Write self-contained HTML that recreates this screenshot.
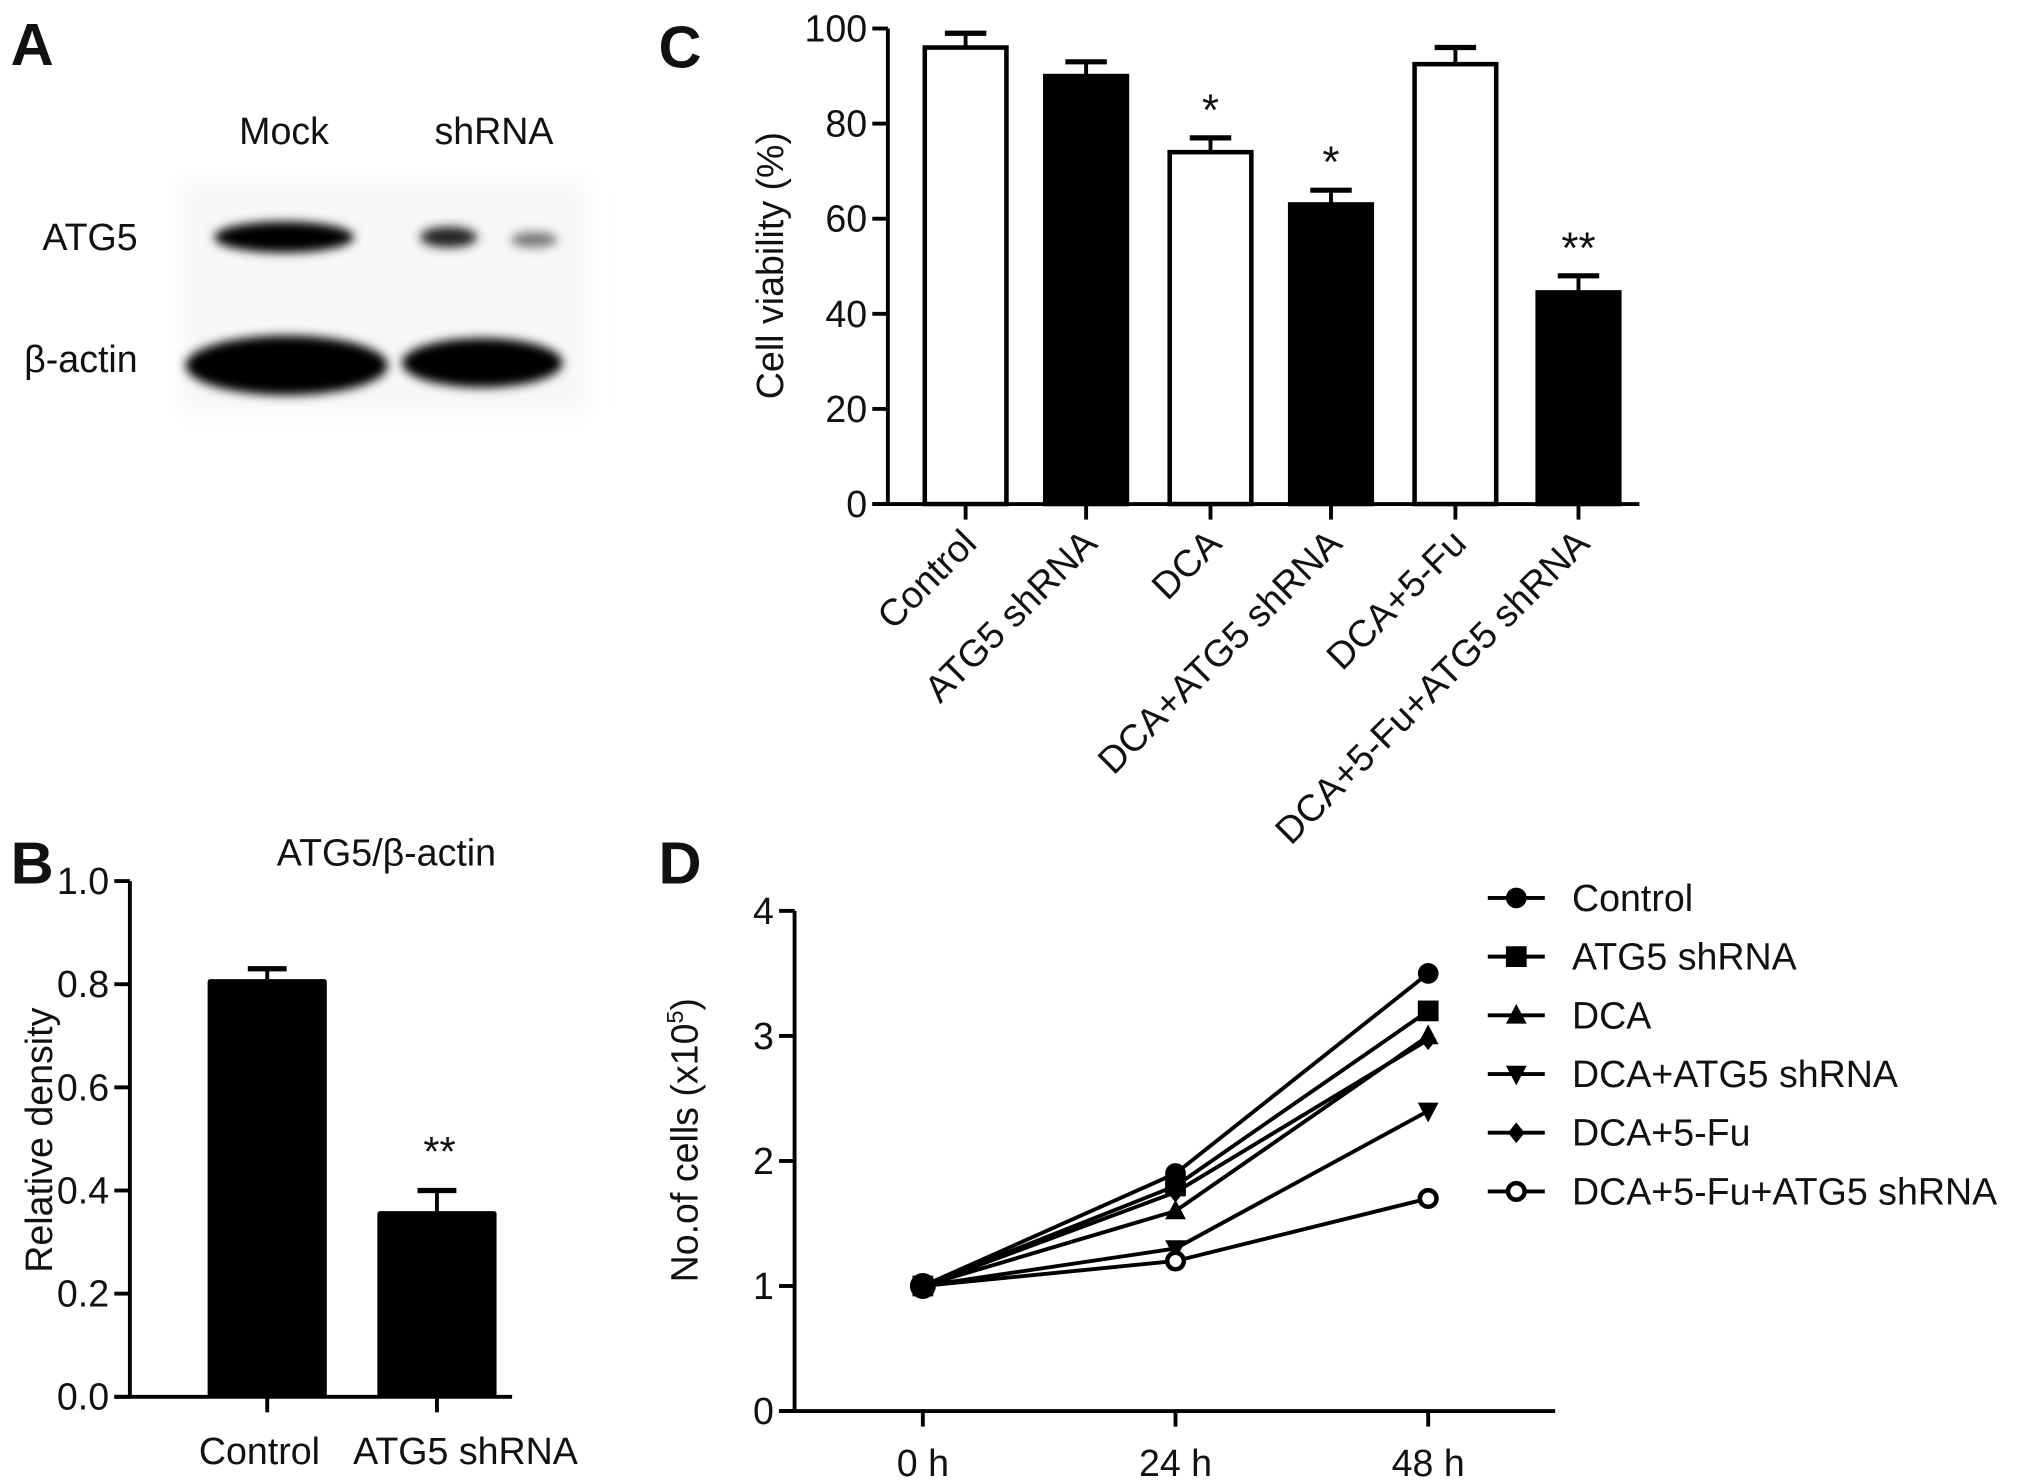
<!DOCTYPE html>
<html><head><meta charset="utf-8"><style>
html,body{margin:0;padding:0;background:#fff}
svg{display:block}
text{font-family:"Liberation Sans",sans-serif;fill:#111}
</style></head><body>
<svg id="fig" width="2031" height="1481" viewBox="0 0 1567 1143">
<defs>
<filter id="blur" x="-30%" y="-60%" width="160%" height="220%"><feGaussianBlur stdDeviation="4"/></filter>
<filter id="blur2" x="-20%" y="-20%" width="140%" height="140%"><feGaussianBlur stdDeviation="8"/></filter>
</defs>
<g>
<text x="8" y="50" font-size="46" font-weight="bold">A</text>
<rect x="140" y="140" width="312" height="180" fill="#f7f7f7" filter="url(#blur2)"/>
<text x="219" y="111" font-size="29" text-anchor="middle">Mock</text>
<text x="381" y="111" font-size="29" text-anchor="middle">shRNA</text>
<text x="106" y="193" font-size="29" text-anchor="end">ATG5</text>
<text x="106" y="287" font-size="29" text-anchor="end">β-actin</text>
<g filter="url(#blur)">
<ellipse cx="219" cy="183" rx="54" ry="12" fill="#000"/>
<ellipse cx="346" cy="183" rx="22" ry="8" fill="#222"/>
<ellipse cx="412" cy="185" rx="18" ry="6" fill="#777"/>
<ellipse cx="221" cy="282" rx="78" ry="23" fill="#000"/>
<ellipse cx="372" cy="280" rx="62" ry="19" fill="#000"/>
</g>
</g>
<g id="pb"></g>
<g id="pc"></g>
<g id="pd"></g>
</svg>
<script>
// Panel B data
const bCats=["Control","ATG5 shRNA"];
const bVals=[0.81,0.36];
const bErr=[0.02,0.04];
const bTicks=[0,0.2,0.4,0.6,0.8,1.0];
// Panel C data
const cCats=["Control","ATG5 shRNA","DCA","DCA+ATG5 shRNA","DCA+5-Fu","DCA+5-Fu+ATG5 shRNA"];
const cVals=[96,90,74,63,92.5,44.5];
const cErr=[3,3,3,3,3.5,3.5];
const cFill=["#fff","#000","#fff","#000","#fff","#000"];
const cStars=["","","*","*","","**"];
const cTicks=[0,20,40,60,80,100];
// Panel D data
const dTimes=["0 h","24 h","48 h"];
const dSeries=["Control","ATG5 shRNA","DCA","DCA+ATG5 shRNA","DCA+5-Fu","DCA+5-Fu+ATG5 shRNA"];
const dControl=[1,1.9,3.5];
const dAtg5=[1,1.8,3.2];
const dDca=[1,1.6,3.0];
const dDcaAtg5=[1,1.3,2.4];
const dDca5fu=[1,1.75,2.97];
const dAll=[1,1.2,1.7];
const dMarkers=["circle","square","triangle","tridown","diamond","open"];
const dTicks=[0,1,2,3,4];

const NS="http://www.w3.org/2000/svg";
function mk(parent,tag,attrs,txt){const e=document.createElementNS(NS,tag);for(const k in attrs)e.setAttribute(k,attrs[k]);if(txt!==undefined)e.textContent=txt;parent.appendChild(e);return e;}
const FS=29;

// ---------- Panel B ----------
(function(){
const g=document.getElementById('pb');
const x0=100,y0=1078,yT=680,xEnd=395;
const y=v=>y0-(v/1.0)*(y0-yT);
const xc=[206,337],w=92;
let t=mk(g,'text',{x:8,y:682,'font-size':46,'font-weight':'bold'},'B');

t=mk(g,'text',{x:298,y:668,'font-size':FS,'text-anchor':'middle'},'ATG5/β-actin');

t=mk(g,'text',{x:0,y:0,'font-size':FS,'text-anchor':'middle',transform:'translate(40,880) rotate(-90)'},'Relative density');

bCats.forEach((c,i)=>{
 const cx=xc[i];
 const e=mk(g,'line',{x1:cx,x2:cx,y1:y(bVals[i]),y2:y(bVals[i]+bErr[i]),stroke:'#000','stroke-width':3});
 
 const cap=mk(g,'line',{x1:cx-15,x2:cx+15,y1:y(bVals[i]+bErr[i]),y2:y(bVals[i]+bErr[i]),stroke:'#000','stroke-width':4});
 
 const r=mk(g,'rect',{x:cx-w/2,y:y(bVals[i]),width:w,height:y0-y(bVals[i]),fill:'#000',rx:2});
 
 const tk=mk(g,'line',{x1:cx,x2:cx,y1:y0,y2:y0+12,stroke:'#000','stroke-width':3});
 
 const lb=mk(g,'text',{x:cx+(i===0?-6:22),y:y0+52,'font-size':FS,'text-anchor':'middle'},c);
 
});
t=mk(g,'text',{x:xc[1]+2,y:900,'font-size':32,'text-anchor':'middle'},'**');

let ax=mk(g,'line',{x1:x0,x2:x0,y1:yT,y2:y0,stroke:'#000','stroke-width':3});

ax=mk(g,'line',{x1:x0-12,x2:xEnd,y1:y0,y2:y0,stroke:'#000','stroke-width':3});

bTicks.forEach(v=>{
 const l=mk(g,'line',{x1:x0-12,x2:x0,y1:y(v),y2:y(v),stroke:'#000','stroke-width':3});
 
 const tt=mk(g,'text',{x:x0-16,y:y(v)+10,'font-size':FS,'text-anchor':'end'},v.toFixed(1));
 
});
})();

// ---------- Panel C ----------
(function(){
const g=document.getElementById('pc');
const x0=685,y0=389,yT=22,xEnd=1265;
const y=v=>y0-(v/100)*(y0-yT);
const xc=[745,838,934,1027,1123,1218],w=63;
let t=mk(g,'text',{x:508,y:52,'font-size':46,'font-weight':'bold'},'C');

t=mk(g,'text',{x:0,y:0,'font-size':FS,'text-anchor':'middle',transform:'translate(604,205) rotate(-90)'},'Cell viability (%)');

cCats.forEach((c,i)=>{
 const cx=xc[i];
 const e=mk(g,'line',{x1:cx,x2:cx,y1:y(cVals[i]),y2:y(cVals[i]+cErr[i]),stroke:'#000','stroke-width':3});
 
 const cap=mk(g,'line',{x1:cx-16,x2:cx+16,y1:y(cVals[i]+cErr[i]),y2:y(cVals[i]+cErr[i]),stroke:'#000','stroke-width':4});
 
 const r=mk(g,'rect',{x:cx-w/2,y:y(cVals[i]),width:w,height:y0-y(cVals[i]),fill:cFill[i],stroke:'#000','stroke-width':3.5});
 
 if(cStars[i]){const s=mk(g,'text',{x:cx,y:y(cVals[i]+cErr[i])-10,'font-size':34,'text-anchor':'middle'},cStars[i]);
 }
 const tk=mk(g,'line',{x1:cx,x2:cx,y1:y0,y2:y0+12,stroke:'#000','stroke-width':3});
 
 const lb=mk(g,'text',{x:0,y:0,'font-size':FS,'text-anchor':'end',transform:`translate(${cx+10},${y0+32}) rotate(-45)`},c);
 
});
let ax=mk(g,'line',{x1:x0,x2:x0,y1:yT,y2:y0,stroke:'#000','stroke-width':3});

ax=mk(g,'line',{x1:x0-12,x2:xEnd,y1:y0,y2:y0,stroke:'#000','stroke-width':3});

cTicks.forEach(v=>{
 const l=mk(g,'line',{x1:x0-12,x2:x0,y1:y(v),y2:y(v),stroke:'#000','stroke-width':3});
 
 const tt=mk(g,'text',{x:x0-16,y:y(v)+10,'font-size':FS,'text-anchor':'end'},String(v));
 
});
})();

// ---------- Panel D ----------
(function(){
const g=document.getElementById('pd');
const x0=613,y0=1089,yT=703,xEnd=1200;
const y=v=>y0-(v/4)*(y0-yT);
const xs=[712,907,1102];
const series=[dControl,dAtg5,dDca,dDcaAtg5,dDca5fu,dAll];
let t=mk(g,'text',{x:508,y:682,'font-size':46,'font-weight':'bold'},'D');

t=mk(g,'text',{x:0,y:0,'font-size':FS,'text-anchor':'middle',transform:'translate(538,880) rotate(-90)'});

t.innerHTML='No.of cells (x10<tspan dy="-11" font-size="18">5</tspan><tspan dy="11">)</tspan>';
function marker(parent,type,cx,cy,s){
 let m;
 if(type==='circle')m=mk(parent,'circle',{cx,cy,r:s,fill:'#000'});
 else if(type==='square')m=mk(parent,'rect',{x:cx-s,y:cy-s,width:2*s,height:2*s,fill:'#000'});
 else if(type==='triangle')m=mk(parent,'polygon',{points:`${cx},${cy-s*1.1} ${cx-s},${cy+s*0.8} ${cx+s},${cy+s*0.8}`,fill:'#000'});
 else if(type==='tridown')m=mk(parent,'polygon',{points:`${cx},${cy+s*1.1} ${cx-s},${cy-s*0.8} ${cx+s},${cy-s*0.8}`,fill:'#000'});
 else if(type==='diamond')m=mk(parent,'polygon',{points:`${cx},${cy-s} ${cx+s*0.8},${cy} ${cx},${cy+s} ${cx-s*0.8},${cy}`,fill:'#000'});
 else m=mk(parent,'circle',{cx,cy,r:s*0.8,fill:'#fff',stroke:'#000','stroke-width':3.5});
 return m;
}
series.forEach((vals,si)=>{
 const pts=vals.map((v,i)=>xs[i]+','+y(v)).join(' ');
 const pl=mk(g,'polyline',{points:pts,fill:'none',stroke:'#000','stroke-width':3});
 
 vals.forEach((v,i)=>{const m=marker(g,dMarkers[si],xs[i],y(v),8);
 });
 const ly=693+si*45.3;
 const ll=mk(g,'line',{x1:1148,x2:1192,y1:ly,y2:ly,stroke:'#000','stroke-width':3});
 
 const lm=marker(g,dMarkers[si],1170,ly,8);
 
 const lt=mk(g,'text',{x:1213,y:ly+10,'font-size':FS},dSeries[si]);
 
});
const big=mk(g,'circle',{cx:xs[0],cy:y(1),r:10,fill:'#000'});

let ax=mk(g,'line',{x1:x0,x2:x0,y1:yT,y2:y0,stroke:'#000','stroke-width':3});

ax=mk(g,'line',{x1:x0-12,x2:xEnd,y1:y0,y2:y0,stroke:'#000','stroke-width':3});

dTicks.forEach(v=>{
 const l=mk(g,'line',{x1:x0-12,x2:x0,y1:y(v),y2:y(v),stroke:'#000','stroke-width':3});
 
 const tt=mk(g,'text',{x:x0-16,y:y(v)+10,'font-size':FS,'text-anchor':'end'},String(v));
 
});
dTimes.forEach((lab,i)=>{
 const l=mk(g,'line',{x1:xs[i],x2:xs[i],y1:y0,y2:y0+12,stroke:'#000','stroke-width':3});
 
 const tt=mk(g,'text',{x:xs[i],y:y0+50,'font-size':FS,'text-anchor':'middle'},lab);
 
});
})();
</script>
</body></html>
